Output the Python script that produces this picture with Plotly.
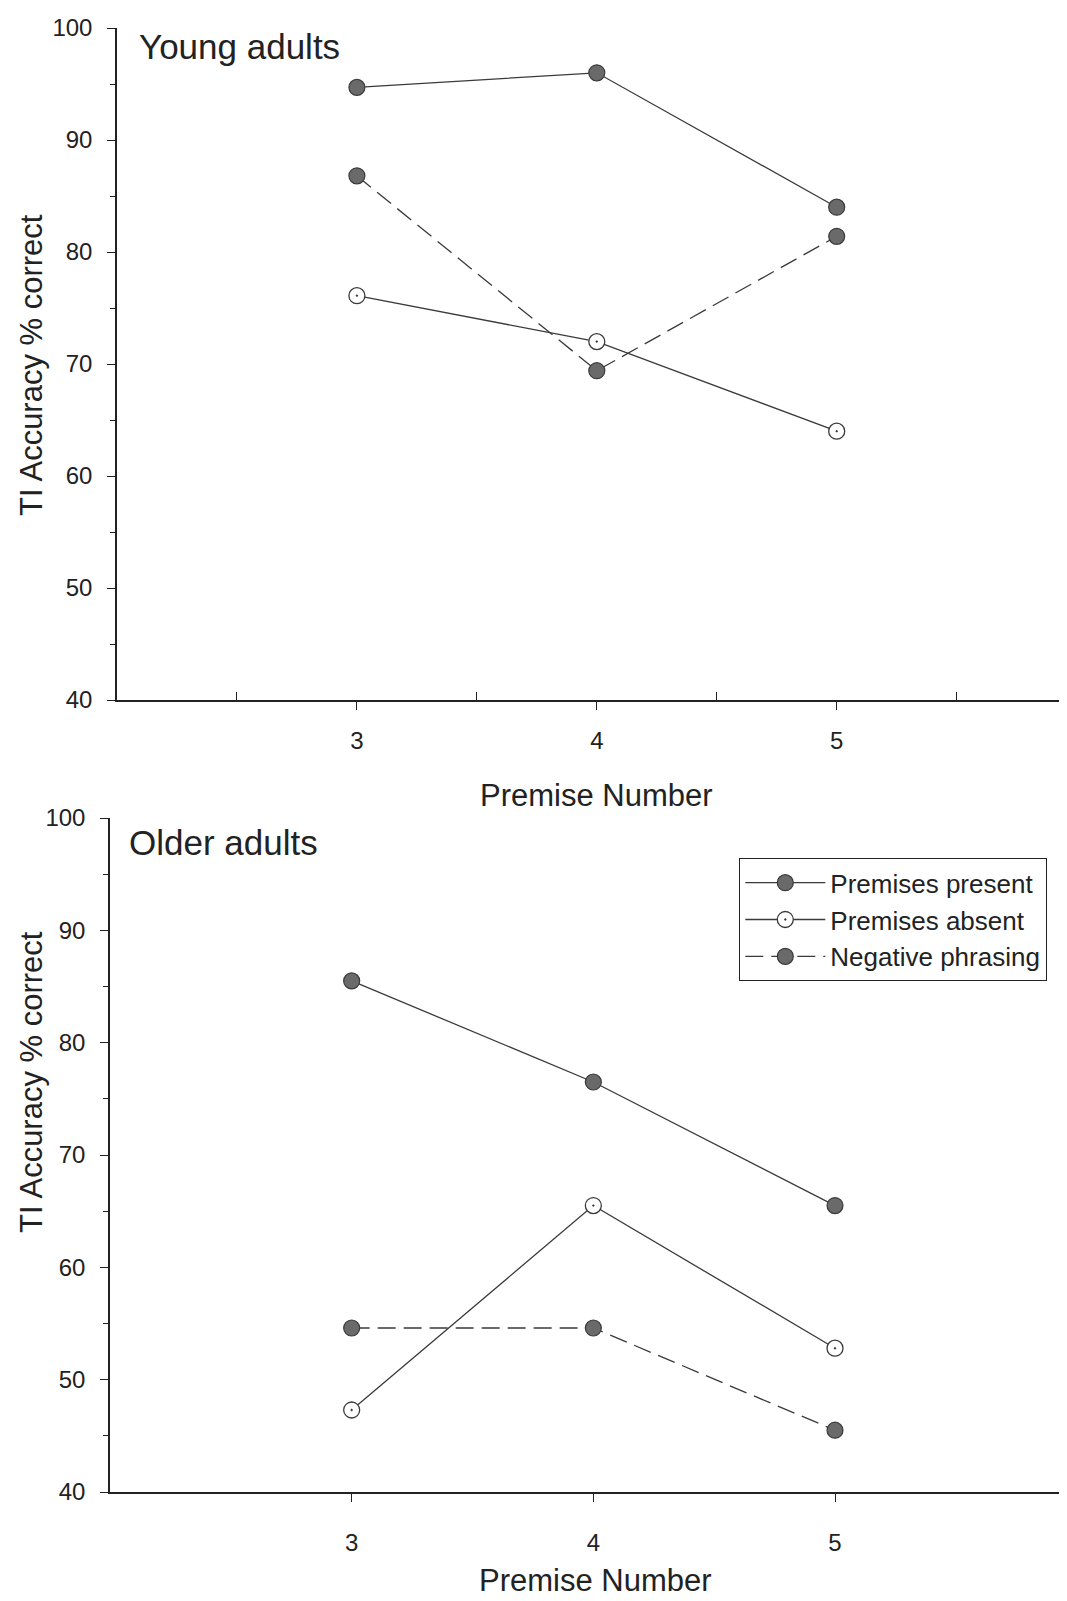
import plotly.graph_objects as go

premise = [3, 4, 5]
series_names = ["Premises present", "Premises absent", "Negative phrasing"]
young_present = [94.7, 96.0, 84.0]
young_absent = [76.1, 72.0, 64.0]
young_negative = [86.8, 69.4, 81.4]
older_present = [85.5, 76.5, 65.5]
older_absent = [47.3, 65.5, 52.8]
older_negative = [54.6, 54.6, 45.5]
y_ticks = [40, 50, 60, 70, 80, 90, 100]

# page body has an 8px margin; figure sized to reach the window's edges
OFF = 8
W, H = 1067 - OFF, 1601 - OFF
FONT = "Liberation Sans, Arial, sans-serif"
LINE = "#3a3a3a"
FILL = "#6a6a6a"

def xp(x):
    return (x - OFF) / W

def yp(y):
    return 1 - (y - OFF) / H

fig = go.Figure()

def add_series(xa, ya, ys, name, kind, show):
    line = dict(color=LINE, width=1.3)
    if kind == "present":
        marker = dict(symbol="circle", size=16, color=FILL, line=dict(color=LINE, width=1.2))
    elif kind == "absent":
        marker = dict(symbol="circle-dot", size=16, color="white", line=dict(color=LINE, width=1.3))
    else:
        marker = dict(symbol="circle", size=16, color=FILL, line=dict(color=LINE, width=1.2))
        line = dict(color=LINE, width=1.3, dash="18px,8px")
    fig.add_trace(go.Scatter(x=premise, y=ys, mode="lines+markers", name=name,
                             line=line, marker=marker, xaxis=xa, yaxis=ya,
                             showlegend=show, legendgroup=name))

add_series("x", "y", young_present, series_names[0], "present", False)
add_series("x", "y", young_absent, series_names[1], "absent", False)
add_series("x", "y", young_negative, series_names[2], "negative", False)
add_series("x2", "y2", older_present, series_names[0], "present", True)
add_series("x2", "y2", older_absent, series_names[1], "absent", True)
add_series("x2", "y2", older_negative, series_names[2], "negative", True)

tickfont = dict(family=FONT, size=24, color="#222")

def yaxis(domain, anchor):
    return dict(domain=domain, anchor=anchor, range=[40, 100], tickvals=y_ticks,
                ticks="outside", ticklen=8, tickwidth=1.3, tickcolor="#222",
                showline=True, linecolor="#222", linewidth=1.5, showgrid=False,
                zeroline=False, tickfont=tickfont, ticklabelstandoff=10,
                automargin=False,
                minor=dict(tickvals=[45, 55, 65, 75, 85, 95], ticks="outside",
                           ticklen=5, tickcolor="#222", tickwidth=1.2))

fig.update_layout(
    width=W, height=H,
    margin=dict(l=0, r=0, t=0, b=0, autoexpand=False),
    paper_bgcolor="white", plot_bgcolor="white",
    xaxis=dict(domain=[xp(117), 1], anchor="y", range=[2.0, 5.96], tickvals=premise,
               ticks="outside", ticklen=8, tickwidth=1.3, tickcolor="#222",
               showline=True, linecolor="#222", linewidth=1.8, showgrid=False,
               zeroline=False, tickfont=tickfont, ticklabelstandoff=10,
               automargin=False,
               minor=dict(tickvals=[2.5, 3.5, 4.5, 5.5], ticks="inside", ticklen=8,
                          tickcolor="#222", tickwidth=1.2)),
    yaxis=yaxis([yp(700), yp(28)], "x"),
    xaxis2=dict(domain=[xp(110), 1], anchor="y2", range=[2.0, 5.96], tickvals=premise,
                ticks="outside", ticklen=8, tickwidth=1.3, tickcolor="#222",
                showline=True, linecolor="#222", linewidth=1.8, showgrid=False,
                zeroline=False, tickfont=tickfont, ticklabelstandoff=20,
                automargin=False),
    yaxis2=yaxis([yp(1492), yp(818)], "x2"),
    legend=dict(x=xp(739), y=yp(858), xanchor="left", yanchor="top",
                bordercolor="#222", borderwidth=1.3, bgcolor="white",
                font=dict(family=FONT, size=26, color="#222"),
                itemwidth=80, tracegroupgap=0, traceorder="normal"),
    showlegend=True,
)

def ann(text, x, y, size, xanchor="center", angle=0, yanchor="middle"):
    fig.add_annotation(text=text, x=xp(x), y=yp(y), xref="paper", yref="paper",
                       showarrow=False, xanchor=xanchor, yanchor=yanchor,
                       textangle=angle, font=dict(family=FONT, size=size, color="#222"))

ann("Young adults", 137, 46, 35, "left")
ann("Older adults", 127, 842, 35, "left")
ann("Premise Number", 596, 795, 31)
ann("Premise Number", 595, 1600, 31, yanchor="bottom")
ann("TI Accuracy % correct", 31, 365, 31, angle=-90)
ann("TI Accuracy % correct", 31, 1082, 31, angle=-90)

fig.write_html("out.html")
